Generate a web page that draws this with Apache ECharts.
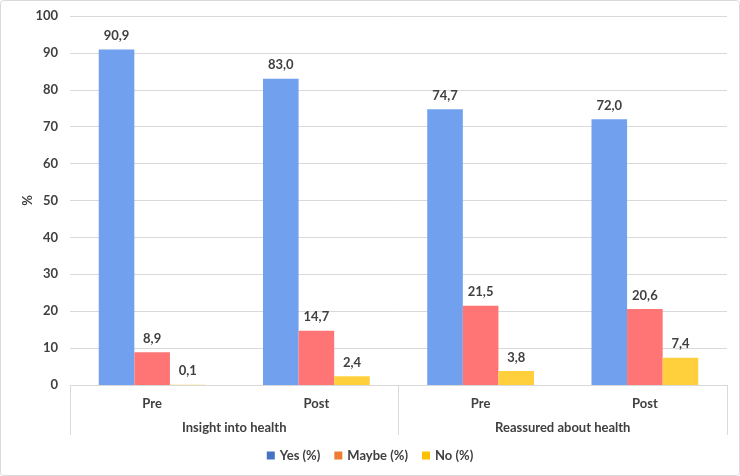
<!DOCTYPE html>
<html><head><meta charset="utf-8">
<script src="https://cdn.jsdelivr.net/npm/echarts@6/dist/echarts.min.js"></script>
<style>html,body{margin:0;padding:0;background:#fff}#c{width:740px;height:476px}</style>
</head><body><div id="c"></div>
<script>
const categories = ['Pre', 'Post', 'Pre', 'Post'];
const groups = ['Insight into health', 'Reassured about health'];
const yesValues = [90.9, 83.0, 74.7, 72.0];
const maybeValues = [8.9, 14.7, 21.5, 20.6];
const noValues = [0.1, 2.4, 3.8, 7.4];
const yTicks = [0, 10, 20, 30, 40, 50, 60, 70, 80, 90, 100];

const font = 'Lato';
const txt = '#404040';
const fs = 13;
const fmt = p => p.value.toFixed(1).replace('.', ',');
const labelCfg = {show: true, position: 'top', distance: 7, formatter: fmt, color: txt, fontFamily: font, fontSize: fs, fontWeight: 'bold'};
const ts = {color: txt, fontFamily: font, fontSize: fs, fontWeight: 'bold'};

const chart = echarts.init(document.getElementById('c'));
chart.setOption({
  animation: false,
  graphic: [{type: 'rect', shape: {x: 0.5, y: 0.5, width: 739, height: 475, r: 3}, style: {fill: 'none', stroke: '#d9d9d9', lineWidth: 1}, z: -1}],
  grid: {left: 70, right: 13, top: 16, bottom: 91},
  legend: {
    bottom: 9, left: 'center', itemWidth: 8, itemHeight: 8, itemGap: 14, icon: 'rect',
    textStyle: ts,
    data: [
      {name: 'Yes (%)', itemStyle: {color: '#4472C4'}},
      {name: 'Maybe (%)', itemStyle: {color: '#ED7D31'}},
      {name: 'No (%)', itemStyle: {color: '#FFC000'}}
    ]
  },
  xAxis: [
    {type: 'category', data: categories, position: 'bottom',
     axisLine: {show: true, lineStyle: {color: '#d9d9d9'}},
     axisTick: {show: false},
     axisLabel: Object.assign({margin: 12}, ts)},
    {type: 'category', data: groups, position: 'bottom',
     axisLine: {show: false},
     axisTick: {show: true, length: 50, lineStyle: {color: '#d9d9d9'}},
     axisLabel: Object.assign({margin: 36}, ts)}
  ],
  yAxis: {
    type: 'value', min: yTicks[0], max: yTicks[yTicks.length - 1], interval: 10,
    name: '%', nameLocation: 'middle', nameGap: 36, nameRotate: 90, nameMoveOverlap: false,
    nameTextStyle: ts,
    axisLine: {show: false}, axisTick: {show: false},
    axisLabel: Object.assign({margin: 12}, ts),
    splitLine: {lineStyle: {color: '#d9d9d9'}}
  },
  series: [
    {name: 'Yes (%)', type: 'bar', data: yesValues, itemStyle: {color: '#71A0EE'}, barGap: '0%', barCategoryGap: '35%', label: labelCfg},
    {name: 'Maybe (%)', type: 'bar', data: maybeValues, itemStyle: {color: '#FF7474'}, label: labelCfg},
    {name: 'No (%)', type: 'bar', data: noValues, itemStyle: {color: '#FFD03C'}, label: labelCfg}
  ]
});
</script></body></html>
